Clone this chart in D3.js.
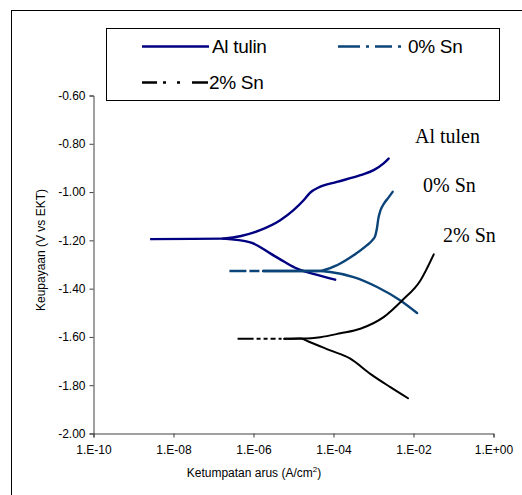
<!DOCTYPE html>
<html>
<head>
<meta charset="utf-8">
<script src="https://cdn.jsdelivr.net/npm/d3@7"></script>
<style>
  html, body { margin: 0; padding: 0; background: #fff; }
  svg { display: block; }
  .tick text { font-family: "Liberation Sans", Arial, sans-serif; font-size: 12px; fill: #000; }
</style>
</head>
<body>
<svg id="chart" width="522" height="495"></svg>
<script>
// Polarisation curves: current density (A/cm2) vs potential (V vs EKT)
const seriesNames = ["Al tulin", "0% Sn", "2% Sn"];
const curveLabels = ["Al tulen", "0% Sn", "2% Sn"];

// [current density, potential] — flat zone around Ecorr
const alTip  = [[2.6e-9, -1.195], [3.0e-8, -1.194], [1.75e-7, -1.193]];
const sn0Tip = [[2.5e-7, -1.327], [1.75e-6, -1.327]];
const sn2Tip = [[4.0e-7, -1.608], [5.9e-6, -1.608]];

// anodic branches
const alAnodic = [[1.75e-7, -1.193], [4.6e-7, -1.183], [1.47e-6, -1.158], [4.66e-6, -1.117],
  [1.0e-5, -1.075], [1.79e-5, -1.034], [2.62e-5, -1.002], [4.24e-5, -0.981], [1.22e-4, -0.958],
  [4.69e-4, -0.930], [1.01e-3, -0.909], [1.79e-3, -0.881], [2.39e-3, -0.861]];
const sn0Anodic = [[1.75e-6, -1.327], [4.17e-5, -1.327], [1.22e-4, -1.303], [3.18e-4, -1.262],
  [6.9e-4, -1.220], [9.3e-4, -1.200], [1.11e-3, -1.180], [1.22e-3, -1.150], [1.32e-3, -1.110],
  [1.50e-3, -1.075], [1.79e-3, -1.050], [2.39e-3, -1.022], [3.01e-3, -0.999]];
const sn2Anodic = [[5.9e-6, -1.608], [1.48e-5, -1.607], [4.68e-5, -1.601], [1.48e-4, -1.585],
  [4.69e-4, -1.566], [1.79e-3, -1.518], [5.19e-3, -1.449], [1.49e-2, -1.366], [3.21e-2, -1.258]];

// cathodic branches
const alCathodic = [[1.75e-7, -1.193], [8.3e-7, -1.208], [2.62e-6, -1.254], [6.2e-6, -1.291],
  [1.22e-5, -1.317], [3.5e-5, -1.341], [1.1e-4, -1.363]];
const sn0Cathodic = [[1.75e-6, -1.327], [4.17e-5, -1.327], [8.3e-5, -1.331], [3.18e-4, -1.352],
  [1.23e-3, -1.393], [4.7e-3, -1.449], [1.23e-2, -1.501]];
const sn2Cathodic = [[5.9e-6, -1.608], [1.48e-5, -1.607], [2.62e-5, -1.622], [8.3e-5, -1.656],
  [2.63e-4, -1.690], [8.3e-4, -1.753], [2.64e-3, -1.808], [7.3e-3, -1.854]];

const xTickValues = [1e-10, 1e-8, 1e-6, 1e-4, 1e-2, 1];
const xTickLabels = ["1.E-10", "1.E-08", "1.E-06", "1.E-04", "1.E-02", "1.E+00"];
const yTickValues = [-2.0, -1.8, -1.6, -1.4, -1.2, -1.0, -0.8, -0.6];

const series = [
  { name: seriesNames[0], label: curveLabels[0], tip: alTip, anodic: alAnodic, cathodic: alCathodic,
    color: "#000080", width: 2.4, tipDash: null, legendDash: null, lx: 415, ly: 143 },
  { name: seriesNames[1], label: curveLabels[1], tip: sn0Tip, anodic: sn0Anodic, cathodic: sn0Cathodic,
    color: "#0b4479", width: 2.4, tipDash: "17,3,10,4", legendDash: "22,6,3,6,17,6,3",
    lx: 423, ly: 192 },
  { name: seriesNames[2], label: curveLabels[2], tip: sn2Tip, anodic: sn2Anodic, cathodic: sn2Cathodic,
    color: "#000000", width: 2.0, tipDash: "16,3,4,3,4,3,5,3,3,3", legendDash: "15,6,3,11,3,12,30",
    lx: 443, ly: 242 }
];

const svg = d3.select("#chart");

// outer frame
svg.append("rect")
  .attr("x", 11.5).attr("y", 10.5)
  .attr("width", 700).attr("height", 700)
  .attr("fill", "none").attr("stroke", "#000").attr("stroke-width", 1);

const x = d3.scaleLog().domain([1e-10, 1]).range([93.5, 493.5]);
const y = d3.scaleLinear().domain([-2.0, -0.6]).range([433.5, 95.5]);

// axes
const yAxis = d3.axisLeft(y)
  .tickValues(yTickValues)
  .tickSize(4).tickPadding(4)
  .tickFormat(d => d.toFixed(2));
const xAxis = d3.axisBottom(x)
  .tickValues(xTickValues)
  .tickSize(4).tickPadding(8)
  .tickFormat((d, i) => xTickLabels[i]);

const gy = svg.append("g").attr("transform", "translate(93.5,0)").call(yAxis);
const gx = svg.append("g").attr("transform", "translate(0,433.5)").call(xAxis);
[gx, gy].forEach(g => {
  g.select(".domain").attr("stroke", "#404040");
  g.selectAll(".tick line").attr("stroke", "#404040");
});

// axis titles
svg.append("text")
  .attr("transform", "translate(42,250) rotate(-90)")
  .attr("text-anchor", "middle")
  .attr("dominant-baseline", "middle")
  .style("font-family", "'Liberation Sans', Arial, sans-serif")
  .style("font-size", "12px")
  .text("Keupayaan (V vs EKT)");

const xt = svg.append("text")
  .attr("x", 254).attr("y", 477)
  .attr("text-anchor", "middle")
  .style("font-family", "'Liberation Sans', Arial, sans-serif")
  .style("font-size", "12px");
xt.append("tspan").text("Ketumpatan arus (A/cm");
xt.append("tspan").attr("dy", -5).style("font-size", "8px").text("2");
xt.append("tspan").attr("dy", 5).text(")");

// curves
const line = d3.line().x(d => x(d[0])).y(d => y(d[1])).curve(d3.curveMonotoneX);

series.forEach(s => {
  const g = svg.append("g").attr("fill", "none").attr("stroke", s.color)
    .attr("stroke-width", s.width).attr("stroke-linejoin", "round");
  g.append("path").attr("d", line(s.tip))
    .attr("stroke-dasharray", s.tipDash);
  g.append("path").attr("d", line(s.cathodic)).attr("stroke-linecap", "round");
  g.append("path").attr("d", line(s.anodic)).attr("stroke-linecap", "round");

  svg.append("text")
    .attr("x", s.lx).attr("y", s.ly)
    .style("font-family", "'Liberation Serif', 'Times New Roman', serif")
    .style("font-size", "20px")
    .text(s.label);
});

// legend
const legend = svg.append("g");
legend.append("rect")
  .attr("x", 106.5).attr("y", 28.5).attr("width", 393).attr("height", 72)
  .attr("fill", "#fff").attr("stroke", "#000").attr("stroke-width", 1);

const legendPos = [
  { x1: 142, x2: 209, ty: 46.5, tx: 212 },
  { x1: 338, x2: 403, ty: 46.5, tx: 408 },
  { x1: 142, x2: 208, ty: 82.5, tx: 209 }
];
series.forEach((s, i) => {
  const p = legendPos[i];
  legend.append("line")
    .attr("x1", p.x1).attr("x2", p.x2).attr("y1", p.ty).attr("y2", p.ty)
    .attr("stroke", s.color).attr("stroke-width", 2.4)
    .attr("stroke-dasharray", s.legendDash);
  legend.append("text")
    .attr("x", p.tx).attr("y", p.ty)
    .attr("dominant-baseline", "central")
    .style("font-family", "'Liberation Sans', Arial, sans-serif")
    .style("font-size", "19px")
    .style("letter-spacing", "-0.3px")
    .text(s.name);
});
</script>
</body>
</html>
